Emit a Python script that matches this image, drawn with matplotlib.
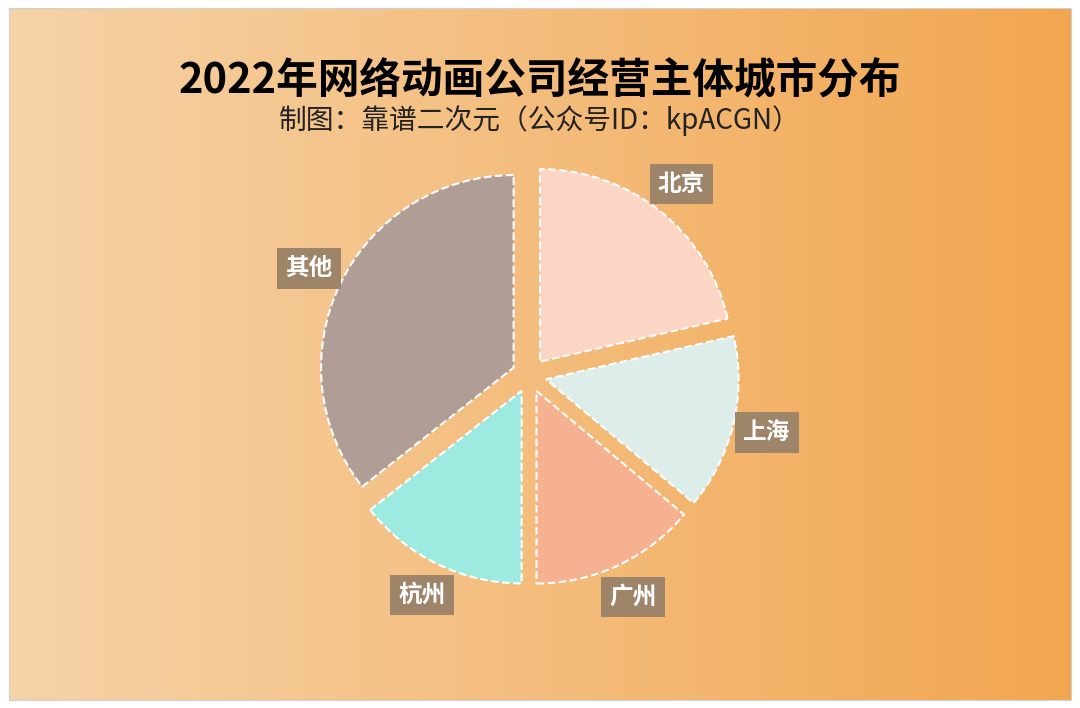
import numpy as np
import matplotlib.pyplot as plt
from matplotlib.colors import LinearSegmentedColormap

plt.rcParams['font.family'] = ['Noto Sans CJK SC', 'DejaVu Sans']

cities = ["北京", "上海", "广州", "杭州", "其他"]
shares = [21.4, 14.7, 13.9, 14.4, 35.6]
colors = ["#FDD5C5", "#DDEDEA", "#F6B290", "#9DEBE0", "#B09E96"]

fig = plt.figure(figsize=(10.8, 7.08), dpi=100)

# gradient background
bg = fig.add_axes([0.008, 0.012, 0.984, 0.976])
grad = LinearSegmentedColormap.from_list("bg", ["#F6D3A8", "#F2A650"])
bg.imshow(np.linspace(0, 1, 256)[None, :], aspect="auto", cmap=grad, extent=[0, 1, 0, 1])
bg.set_xticks([])
bg.set_yticks([])
for s in bg.spines.values():
    s.set_color("#D0D0D0")

fig.text(0.5, 0.87, "2022年网络动画公司经营主体城市分布", ha="center", fontsize=30, fontweight="bold")
fig.text(0.5, 0.818, "制图：靠谱二次元（公众号ID：kpACGN）", ha="center", fontsize=20, color="#222222")

ax = fig.add_axes([0.19, 0.13, 0.6, 0.68])
wedges, _ = ax.pie(shares, colors=colors, startangle=90, counterclock=False,
                   explode=[0.09] * 5,
                   wedgeprops=dict(edgecolor="white", linewidth=1.5, linestyle="--"))
for w, name in zip(wedges, cities):
    ang = np.deg2rad((w.theta1 + w.theta2) / 2)
    r = 1.27
    ax.text(r * np.cos(ang), r * np.sin(ang), name, ha="center", va="center",
            color="white", fontsize=17, fontweight="bold",
            bbox=dict(boxstyle="square,pad=0.35", fc="#9E8468", ec="none"))
ax.set_aspect("equal")
ax.set_xlim(-1.45, 1.45)
ax.set_ylim(-1.25, 1.25)

fig.savefig("out.png", dpi=100)
